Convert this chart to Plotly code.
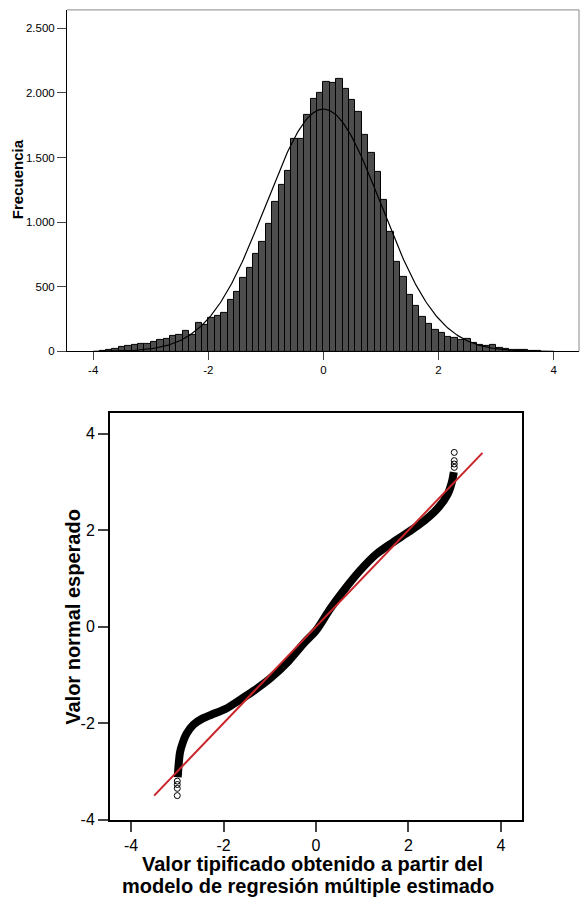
import numpy as np
import plotly.graph_objects as go

# ---------------- data ----------------
# histogram: bin index k covers [k*bin_width, (k+1)*bin_width]
bin_width = 1 / 9
bin_index = list(range(-35, 34))
counts = [3, 10, 22, 35, 44, 52, 62, 56, 72, 92, 100, 118, 130, 157, 129, 224, 207, 257,
          277, 299, 396, 464, 567, 643, 753, 847, 988, 1156, 1289, 1398, 1646, 1646,
          1832, 1952, 1998,
          2088, 2080, 2105, 2029, 1947, 1850, 1677, 1534, 1388, 1171, 926,
          694, 574, 441, 350, 268, 210, 166, 142, 113, 105, 92, 94, 66, 54, 43, 48,
          31, 23, 15, 10, 13, 5, 2]
curve_mean = 0.0
curve_sd = 1.0
hist_xticks = [-4, -2, 0, 2, 4]
hist_xticktext = ["-4", "-2", "0", "2", "4"]
hist_yticks = [0, 500, 1000, 1500, 2000, 2500]
hist_yticktext = ["0", "500", "1.000", "1.500", "2.000", "2.500"]

# Q-Q plot (observed standardized value, expected normal value)
qq_band_obs = [-2.99, -2.97, -2.94, -2.88, -2.80, -2.65, -2.45, -2.20, -1.95, -1.65,
               -1.35, -1.00, -0.60, -0.25, 0.00, 0.30, 0.60, 0.95, 1.30, 1.65, 2.00,
               2.35, 2.65, 2.85, 2.94, 2.98]
qq_band_exp = [-3.12, -2.85, -2.60, -2.40, -2.22, -2.03, -1.90, -1.80, -1.70, -1.52,
               -1.33, -1.08, -0.72, -0.33, -0.08, 0.36, 0.75, 1.16, 1.50, 1.74, 1.96,
               2.20, 2.47, 2.75, 3.00, 3.20]
qq_tail_obs = [-3.00, -3.00, -3.00, -3.00, 2.99, 2.99, 2.99, 2.99]
qq_tail_exp = [-3.50, -3.35, -3.27, -3.20, 3.30, 3.37, 3.44, 3.61]
ref_line = [-3.5, 3.6]
qq_ticks = [-4, -2, 0, 2, 4]
qq_ticktext = ["-4", "-2", "0", "2", "4"]

# ---------------- figure ----------------
W, H = 580, 903
FONT = "Liberation Sans, Arial, sans-serif"

fig = go.Figure()

centers = [(k + 0.5) * bin_width for k in bin_index]
fig.add_trace(go.Bar(x=centers, y=counts, width=bin_width,
                     marker=dict(color="#4d4d4d", line=dict(color="black", width=1)),
                     xaxis="x", yaxis="y", showlegend=False))

n_total = sum(counts)
xc = np.linspace(-4, 4, 400)
yc = n_total * bin_width / (curve_sd * np.sqrt(2 * np.pi)) * np.exp(-0.5 * ((xc - curve_mean) / curve_sd) ** 2)
fig.add_trace(go.Scatter(x=xc, y=yc, mode="lines", line=dict(color="black", width=1.2),
                         xaxis="x", yaxis="y", showlegend=False))

fig.add_trace(go.Scatter(x=qq_band_obs, y=qq_band_exp, mode="lines",
                         line=dict(color="black", width=8, shape="spline", smoothing=0.8),
                         xaxis="x2", yaxis="y2", showlegend=False))
fig.add_trace(go.Scatter(x=qq_tail_obs, y=qq_tail_exp, mode="markers",
                         marker=dict(symbol="circle-open", size=6, color="black", line=dict(width=1)),
                         xaxis="x2", yaxis="y2", showlegend=False))
fig.add_trace(go.Scatter(x=ref_line, y=ref_line, mode="lines",
                         line=dict(color="#c8262b", width=2),
                         xaxis="x2", yaxis="y2", showlegend=False))


def px_x(p):
    return p / W


def px_y(p):
    return 1 - p / H


fig.update_layout(
    width=W, height=H, autosize=False,
    margin=dict(l=0, r=0, t=0, b=0),
    paper_bgcolor="white", plot_bgcolor="white",
    font=dict(family=FONT, color="black"),
    bargap=0,
    xaxis=dict(domain=[px_x(67), px_x(579)], range=[-4.455, 4.44], anchor="y",
               tickvals=hist_xticks, ticktext=hist_xticktext, ticks="outside", ticklen=8, tickwidth=1,
               showline=True, linecolor="black", linewidth=1,
               showgrid=False, zeroline=False, tickfont=dict(size=11.5)),
    yaxis=dict(domain=[px_y(355), px_y(10)], range=[0, 2641], anchor="x",
               tickvals=hist_yticks, ticktext=hist_yticktext, ticks="outside",
               ticklen=9, tickwidth=1, showline=True, linecolor="black", linewidth=1,
               showgrid=False, zeroline=False, tickfont=dict(size=11.5)),
    xaxis2=dict(domain=[px_x(110), px_x(522)], range=[-4.455, 4.455], anchor="y2",
                tickvals=qq_ticks, ticktext=qq_ticktext, ticks="outside", ticklen=10, tickwidth=2,
                showline=True, mirror=True, linecolor="black", linewidth=2,
                showgrid=False, zeroline=False, tickfont=dict(size=16)),
    yaxis2=dict(domain=[px_y(828), px_y(417)], range=[-4, 4.43], anchor="x2",
                tickvals=qq_ticks, ticktext=qq_ticktext, ticks="outside", ticklen=10, tickwidth=2,
                showline=True, mirror=True, linecolor="black", linewidth=2,
                showgrid=False, zeroline=False, tickfont=dict(size=16)),
    shapes=[
        dict(type="line", xref="paper", yref="paper", x0=px_x(67), x1=px_x(579),
             y0=px_y(10), y1=px_y(10), line=dict(color="#888888", width=1)),
        dict(type="line", xref="paper", yref="paper", x0=px_x(579), x1=px_x(579),
             y0=px_y(10), y1=px_y(355), line=dict(color="#888888", width=1)),
    ],
    annotations=[
        dict(text="Frecuencia", x=px_x(17), y=px_y(181), xref="paper", yref="paper",
             textangle=-90, showarrow=False, xanchor="center", yanchor="middle",
             font=dict(size=15, weight="bold")),
        dict(text="Valor normal esperado", x=px_x(73), y=px_y(623), xref="paper", yref="paper",
             textangle=-90, showarrow=False, xanchor="center", yanchor="middle",
             font=dict(size=20, weight="bold")),
        dict(text="Valor tipificado obtenido a partir del", x=px_x(312), y=px_y(872.5),
             xref="paper", yref="paper", showarrow=False, xanchor="center", yanchor="middle",
             borderpad=0, font=dict(size=20, weight="bold")),
        dict(text="modelo de regresión múltiple estimado", x=px_x(308), y=px_y(895),
             xref="paper", yref="paper", showarrow=False, xanchor="center", yanchor="middle",
             borderpad=0, font=dict(size=20, weight="bold")),
    ],
)

fig.write_html("out.html", config={"displayModeBar": False},
               post_script="document.body.style.margin='0';document.body.style.overflow='hidden';")
